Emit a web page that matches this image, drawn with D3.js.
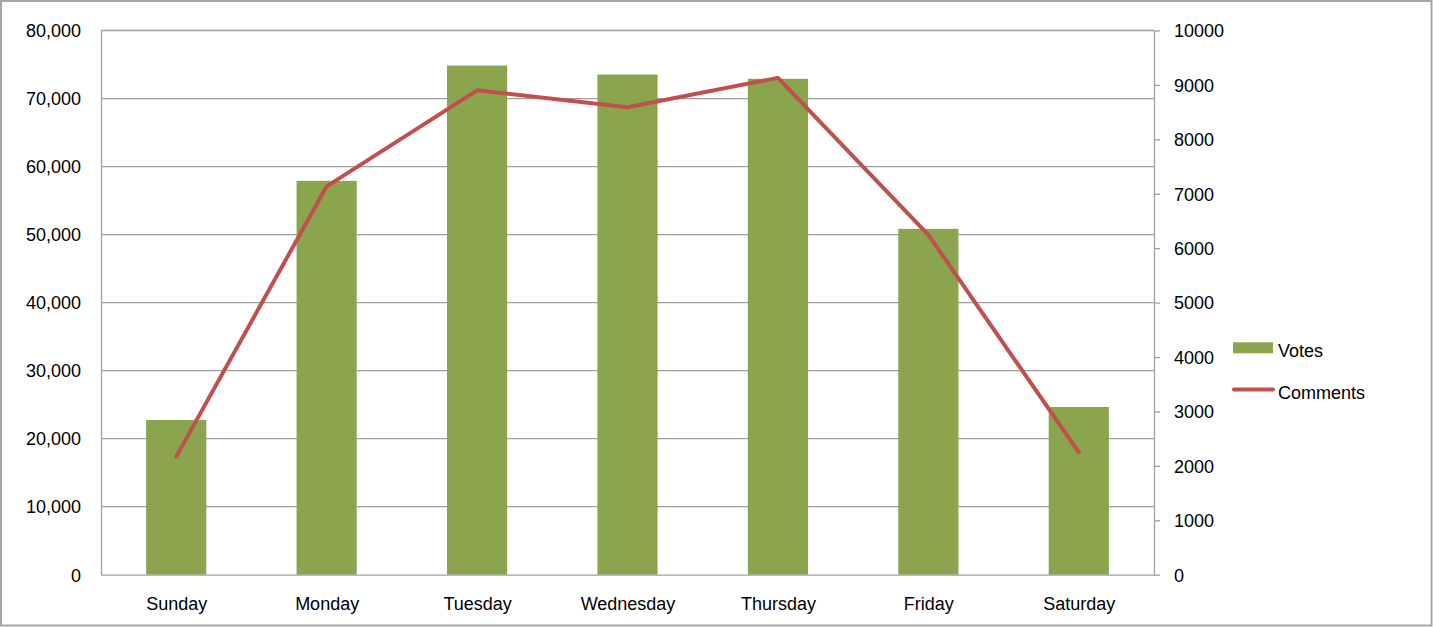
<!DOCTYPE html>
<html lang="en">
<head>
    <meta charset="UTF-8">
    <script src="https://d3js.org/d3.v7.min.js"></script>
    <style>
        body { margin: 0; background: white; }
        text { font-family: "Liberation Sans", Arial, sans-serif; font-size: 18px; fill: #000; }
    </style>
</head>
<body>
    <svg id="chart" width="1433" height="627"></svg>
    <script>
        const days = ["Sunday", "Monday", "Tuesday", "Wednesday", "Thursday", "Friday", "Saturday"];
        const votes = [22750, 57900, 74850, 73530, 72900, 50840, 24660];
        const comments = [2170, 7135, 8900, 8590, 9130, 6245, 2250];
        const leftTicks = [0, 10000, 20000, 30000, 40000, 50000, 60000, 70000, 80000];
        const rightTicks = [0, 1000, 2000, 3000, 4000, 5000, 6000, 7000, 8000, 9000, 10000];

        const width = 1433, height = 627;
        const margin = { top: 30.5, right: 279, bottom: 52.3, left: 101 };
        const barColor = "#8aa54e", lineColor = "#c0504d", gridColor = "#a0a0a0";

        const svg = d3.select("#chart");

        // outer frame
        svg.append("rect")
            .attr("x", 1).attr("y", 1)
            .attr("width", width - 2.5).attr("height", height - 2.5)
            .attr("fill", "white")
            .attr("stroke", "#a6a6a6")
            .attr("stroke-width", 2);

        const x = d3.scaleBand()
            .domain(days)
            .range([margin.left, width - margin.right])
            .paddingInner(0.6)
            .paddingOuter(0.3);

        const xc = d3.scalePoint()
            .domain(days)
            .range([margin.left, width - margin.right])
            .padding(0.5);

        const yL = d3.scaleLinear().domain([0, 80000]).range([height - margin.bottom, margin.top]);
        const yR = d3.scaleLinear().domain([0, 10000]).range([height - margin.bottom, margin.top]);

        // gridlines
        svg.append("g")
            .selectAll("line")
            .data(leftTicks.slice(1))
            .enter().append("line")
            .attr("x1", margin.left).attr("x2", width - margin.right)
            .attr("y1", d => yL(d)).attr("y2", d => yL(d))
            .attr("stroke", gridColor)
            .attr("stroke-width", 1.3);

        // left axis
        const left = svg.append("g")
            .attr("transform", `translate(${margin.left},0)`)
            .call(d3.axisLeft(yL).tickValues(leftTicks).tickSize(0).tickPadding(20).tickFormat(d3.format(",")));
        left.select(".domain").attr("stroke", gridColor).attr("stroke-width", 1.3);
        left.selectAll("text").style("font-size", "18px").attr("dy", "0.35em");

        // right axis
        const right = svg.append("g")
            .attr("transform", `translate(${width - margin.right},0)`)
            .call(d3.axisRight(yR).tickValues(rightTicks).tickSize(6).tickSizeOuter(0).tickPadding(14).tickFormat(d3.format("d")));
        right.select(".domain").attr("stroke", gridColor).attr("stroke-width", 1.3);
        right.selectAll(".tick line").attr("stroke", gridColor).attr("stroke-width", 1.3);
        right.selectAll("text").style("font-size", "18px").attr("dy", "0.35em");

        // bars
        svg.append("g")
            .selectAll("rect")
            .data(days)
            .enter().append("rect")
            .attr("x", d => x(d))
            .attr("y", (d, i) => yL(votes[i]))
            .attr("width", x.bandwidth())
            .attr("height", (d, i) => yL(0) - yL(votes[i]))
            .attr("fill", barColor);

        // x axis
        const bottom = svg.append("g")
            .attr("transform", `translate(0,${height - margin.bottom})`)
            .call(d3.axisBottom(xc).tickSize(0).tickPadding(23));
        bottom.select(".domain").attr("stroke", gridColor).attr("stroke-width", 1.3);
        bottom.selectAll("text").style("font-size", "18px");

        // comments line
        const line = d3.line()
            .x((d, i) => xc(days[i]))
            .y(d => yR(d));

        svg.append("path")
            .datum(comments)
            .attr("d", line)
            .attr("fill", "none")
            .attr("stroke", lineColor)
            .attr("stroke-width", 4)
            .attr("stroke-linejoin", "round")
            .attr("stroke-linecap", "round");

        // legend
        const legend = svg.append("g");
        legend.append("rect")
            .attr("x", 1233).attr("y", 342.3)
            .attr("width", 40).attr("height", 11)
            .attr("fill", barColor);
        legend.append("text")
            .attr("x", 1278).attr("y", 356.5)
            .text("Votes");
        legend.append("line")
            .attr("x1", 1234).attr("x2", 1273)
            .attr("y1", 389.5).attr("y2", 389.5)
            .attr("stroke", lineColor)
            .attr("stroke-width", 4)
            .attr("stroke-linecap", "round");
        legend.append("text")
            .attr("x", 1278).attr("y", 398.5)
            .text("Comments");
    </script>
</body>
</html>
